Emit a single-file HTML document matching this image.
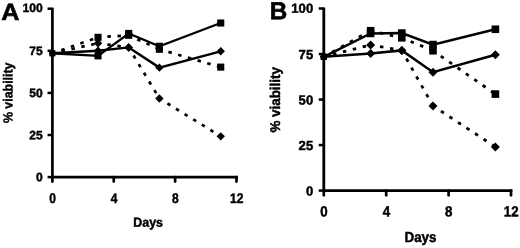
<!DOCTYPE html>
<html><head><meta charset="utf-8"><title>Figure</title>
<style>
html,body{margin:0;padding:0;background:#fff;}
svg{display:block;}
text{font-family:"Liberation Sans",sans-serif;font-weight:bold;fill:#000;stroke:#000;stroke-width:0.45px;}
.L{stroke-width:0.6px;}
</style></head><body>
<svg width="520" height="248" viewBox="0 0 520 248">
<defs><filter id="soft" x="0" y="0" width="520" height="248" filterUnits="userSpaceOnUse"><feGaussianBlur stdDeviation="0.45"/></filter></defs>
<rect width="520" height="248" fill="#fff"/>
<g filter="url(#soft)">
<path d="M52.4 7.80 V177.1 H237.83" fill="none" stroke="#000" stroke-width="2.7" stroke-linejoin="miter"/>
<line x1="47.55" y1="177.10" x2="52.4" y2="177.10" stroke="#000" stroke-width="2.5"/>
<text transform="translate(42.70 181.33) rotate(0.03)" text-anchor="end" font-size="12.1">0</text>
<line x1="47.55" y1="135.00" x2="52.4" y2="135.00" stroke="#000" stroke-width="2.5"/>
<text transform="translate(42.70 139.23) rotate(0.03)" text-anchor="end" font-size="12.1">25</text>
<line x1="47.55" y1="92.90" x2="52.4" y2="92.90" stroke="#000" stroke-width="2.5"/>
<text transform="translate(42.70 97.13) rotate(0.03)" text-anchor="end" font-size="12.1">50</text>
<line x1="47.55" y1="50.80" x2="52.4" y2="50.80" stroke="#000" stroke-width="2.5"/>
<text transform="translate(42.70 55.03) rotate(0.03)" text-anchor="end" font-size="12.1">75</text>
<line x1="47.55" y1="8.70" x2="52.4" y2="8.70" stroke="#000" stroke-width="2.5"/>
<text transform="translate(42.70 12.03) rotate(0.03)" text-anchor="end" font-size="12.1">100</text>
<line x1="52.40" y1="177.1" x2="52.40" y2="181.55" stroke="#000" stroke-width="2.7" stroke-linecap="round"/>
<text transform="translate(52.70 202.6) rotate(0.03) scale(0.86 1)" text-anchor="middle" font-size="14">0</text>
<line x1="113.76" y1="177.1" x2="113.76" y2="181.55" stroke="#000" stroke-width="2.7" stroke-linecap="round"/>
<text transform="translate(114.06 202.6) rotate(0.03) scale(0.86 1)" text-anchor="middle" font-size="14">4</text>
<line x1="175.12" y1="177.1" x2="175.12" y2="181.55" stroke="#000" stroke-width="2.7" stroke-linecap="round"/>
<text transform="translate(175.42 202.6) rotate(0.03) scale(0.86 1)" text-anchor="middle" font-size="14">8</text>
<line x1="236.48" y1="177.1" x2="236.48" y2="181.55" stroke="#000" stroke-width="2.7" stroke-linecap="round"/>
<text transform="translate(236.78 202.6) rotate(0.03) scale(0.86 1)" text-anchor="middle" font-size="14">12</text>
<text transform="translate(148.1 226.8) rotate(0.03) scale(0.94 1)" text-anchor="middle" font-size="13.2">Days</text>
<text transform="translate(12.6 92.8) rotate(-89.97) scale(0.94 1)" text-anchor="middle" font-size="13.2">% viability</text>
<text transform="translate(1.3 19.9) rotate(0.03) scale(1.067 1)" font-size="23.6" class="L">A</text>
<polyline points="52.4,53.3 98.0,55.9 128.7,33.5 159.4,46.3 220.7,23.0" fill="none" stroke="#000" stroke-width="2.4"/>
<rect x="49.50" y="50.43" width="5.8" height="5.8" fill="#000"/>
<rect x="94.47" y="52.30" width="7.1" height="7.1" fill="#000"/>
<rect x="125.15" y="29.90" width="7.1" height="7.1" fill="#000"/>
<rect x="155.83" y="42.70" width="7.1" height="7.1" fill="#000"/>
<rect x="217.19" y="19.46" width="7.1" height="7.1" fill="#000"/>
<line x1="52.4" y1="53.3" x2="98.0" y2="37.3" stroke="#000" stroke-width="2.6999999999999997" stroke-dasharray="3.5 6.6" stroke-dashoffset="0.7"/>
<line x1="98.0" y1="37.3" x2="128.7" y2="35.3" stroke="#000" stroke-width="2.6999999999999997" stroke-dasharray="3.5 6.6" stroke-dashoffset="0.7"/>
<line x1="128.7" y1="35.3" x2="159.4" y2="49.3" stroke="#000" stroke-width="2.6999999999999997" stroke-dasharray="3.5 6.6" stroke-dashoffset="0.7"/>
<line x1="159.4" y1="49.3" x2="220.7" y2="67.1" stroke="#000" stroke-width="2.6999999999999997" stroke-dasharray="3.5 6.6" stroke-dashoffset="0.7"/>
<rect x="49.50" y="50.43" width="5.8" height="5.8" fill="#000"/>
<rect x="94.47" y="33.78" width="7.1" height="7.1" fill="#000"/>
<rect x="125.15" y="31.76" width="7.1" height="7.1" fill="#000"/>
<rect x="155.83" y="45.73" width="7.1" height="7.1" fill="#000"/>
<rect x="217.19" y="63.58" width="7.1" height="7.1" fill="#000"/>
<polyline points="52.4,53.3 98.0,50.8 128.7,47.4 159.4,67.6 220.7,51.3" fill="none" stroke="#000" stroke-width="2.4"/>
<path d="M48.90 53.33 L52.40 49.83 L55.90 53.33 L52.40 56.83Z" fill="#000"/>
<path d="M93.82 50.80 L98.02 46.60 L102.22 50.80 L98.02 55.00Z" fill="#000"/>
<path d="M124.50 47.43 L128.70 43.23 L132.90 47.43 L128.70 51.63Z" fill="#000"/>
<path d="M155.18 67.64 L159.38 63.44 L163.58 67.64 L159.38 71.84Z" fill="#000"/>
<path d="M216.54 51.31 L220.74 47.11 L224.94 51.31 L220.74 55.51Z" fill="#000"/>
<line x1="52.4" y1="53.3" x2="98.0" y2="43.2" stroke="#000" stroke-width="2.6999999999999997" stroke-dasharray="3.5 6.6" stroke-dashoffset="0.7"/>
<line x1="98.0" y1="43.2" x2="128.7" y2="47.4" stroke="#000" stroke-width="2.6999999999999997" stroke-dasharray="3.5 6.6" stroke-dashoffset="0.7"/>
<line x1="128.7" y1="47.4" x2="159.4" y2="98.5" stroke="#000" stroke-width="2.6999999999999997" stroke-dasharray="3.5 6.6" stroke-dashoffset="0.7"/>
<line x1="159.4" y1="98.5" x2="220.7" y2="136.3" stroke="#000" stroke-width="2.6999999999999997" stroke-dasharray="3.5 6.6" stroke-dashoffset="0.7"/>
<path d="M48.90 53.33 L52.40 49.83 L55.90 53.33 L52.40 56.83Z" fill="#000"/>
<path d="M93.82 43.22 L98.02 39.02 L102.22 43.22 L98.02 47.42Z" fill="#000"/>
<path d="M124.50 47.43 L128.70 43.23 L132.90 47.43 L128.70 51.63Z" fill="#000"/>
<path d="M155.18 98.46 L159.38 94.26 L163.58 98.46 L159.38 102.66Z" fill="#000"/>
<path d="M216.54 136.35 L220.74 132.15 L224.94 136.35 L220.74 140.55Z" fill="#000"/>
<path d="M323.8 7.60 V190.6 H512.40" fill="none" stroke="#000" stroke-width="2.8" stroke-linejoin="miter"/>
<line x1="318.70" y1="190.60" x2="323.8" y2="190.60" stroke="#000" stroke-width="2.5"/>
<text transform="translate(313.20 195.59) rotate(0.03)" text-anchor="end" font-size="13.1">0</text>
<line x1="318.70" y1="145.07" x2="323.8" y2="145.07" stroke="#000" stroke-width="2.5"/>
<text transform="translate(313.20 150.06) rotate(0.03)" text-anchor="end" font-size="13.1">25</text>
<line x1="318.70" y1="99.55" x2="323.8" y2="99.55" stroke="#000" stroke-width="2.5"/>
<text transform="translate(313.20 104.54) rotate(0.03)" text-anchor="end" font-size="13.1">50</text>
<line x1="318.70" y1="54.03" x2="323.8" y2="54.03" stroke="#000" stroke-width="2.5"/>
<text transform="translate(313.20 59.01) rotate(0.03)" text-anchor="end" font-size="13.1">75</text>
<line x1="318.70" y1="8.50" x2="323.8" y2="8.50" stroke="#000" stroke-width="2.5"/>
<text transform="translate(313.20 12.69) rotate(0.03)" text-anchor="end" font-size="13.1">100</text>
<line x1="323.80" y1="190.6" x2="323.80" y2="195.30" stroke="#000" stroke-width="2.7" stroke-linecap="round"/>
<text transform="translate(324.00 216.6) rotate(0.03) scale(0.9 1)" text-anchor="middle" font-size="14.8">0</text>
<line x1="386.20" y1="190.6" x2="386.20" y2="195.30" stroke="#000" stroke-width="2.7" stroke-linecap="round"/>
<text transform="translate(386.40 216.6) rotate(0.03) scale(0.9 1)" text-anchor="middle" font-size="14.8">4</text>
<line x1="448.60" y1="190.6" x2="448.60" y2="195.30" stroke="#000" stroke-width="2.7" stroke-linecap="round"/>
<text transform="translate(448.80 216.6) rotate(0.03) scale(0.9 1)" text-anchor="middle" font-size="14.8">8</text>
<line x1="511.00" y1="190.6" x2="511.00" y2="195.30" stroke="#000" stroke-width="2.7" stroke-linecap="round"/>
<text transform="translate(511.20 216.6) rotate(0.03) scale(0.9 1)" text-anchor="middle" font-size="14.8">12</text>
<text transform="translate(420.5 242.1) rotate(0.03) scale(0.925 1)" text-anchor="middle" font-size="14.5">Days</text>
<text transform="translate(279.9 99.85) rotate(-89.97) scale(0.95 1)" text-anchor="middle" font-size="14.1">% viability</text>
<text transform="translate(269.7 19.35) rotate(0.03) scale(0.985 1)" font-size="24.6" class="L">B</text>
<polyline points="323.8,56.8 370.6,33.4 401.8,33.1 433.0,44.6 495.4,29.3" fill="none" stroke="#000" stroke-width="2.5"/>
<rect x="320.70" y="53.66" width="6.2" height="6.2" fill="#000"/>
<rect x="366.80" y="29.65" width="7.6" height="7.6" fill="#000"/>
<rect x="398.00" y="29.28" width="7.6" height="7.6" fill="#000"/>
<rect x="429.20" y="40.76" width="7.6" height="7.6" fill="#000"/>
<rect x="491.60" y="25.46" width="7.6" height="7.6" fill="#000"/>
<line x1="323.8" y1="56.8" x2="370.6" y2="30.7" stroke="#000" stroke-width="2.8" stroke-dasharray="3.5 6.7" stroke-dashoffset="0.7"/>
<line x1="370.6" y1="30.7" x2="401.8" y2="37.8" stroke="#000" stroke-width="2.8" stroke-dasharray="3.5 6.7" stroke-dashoffset="0.7"/>
<line x1="401.8" y1="37.8" x2="433.0" y2="50.7" stroke="#000" stroke-width="2.8" stroke-dasharray="3.5 6.7" stroke-dashoffset="0.7"/>
<line x1="433.0" y1="50.7" x2="495.4" y2="94.1" stroke="#000" stroke-width="2.8" stroke-dasharray="3.5 6.7" stroke-dashoffset="0.7"/>
<rect x="320.70" y="53.66" width="6.2" height="6.2" fill="#000"/>
<rect x="366.80" y="26.92" width="7.6" height="7.6" fill="#000"/>
<rect x="398.00" y="34.02" width="7.6" height="7.6" fill="#000"/>
<rect x="429.20" y="46.95" width="7.6" height="7.6" fill="#000"/>
<rect x="491.60" y="90.29" width="7.6" height="7.6" fill="#000"/>
<polyline points="323.8,56.8 370.6,53.5 401.8,50.4 433.0,72.2 495.4,54.8" fill="none" stroke="#000" stroke-width="2.5"/>
<path d="M320.00 56.76 L323.80 52.96 L327.60 56.76 L323.80 60.56Z" fill="#000"/>
<path d="M366.10 53.48 L370.60 48.98 L375.10 53.48 L370.60 57.98Z" fill="#000"/>
<path d="M397.30 50.38 L401.80 45.88 L406.30 50.38 L401.80 54.88Z" fill="#000"/>
<path d="M428.50 72.23 L433.00 67.73 L437.50 72.23 L433.00 76.73Z" fill="#000"/>
<path d="M490.90 54.75 L495.40 50.25 L499.90 54.75 L495.40 59.25Z" fill="#000"/>
<line x1="323.8" y1="56.8" x2="370.6" y2="44.9" stroke="#000" stroke-width="2.8" stroke-dasharray="3.5 6.7" stroke-dashoffset="0.7"/>
<line x1="370.6" y1="44.9" x2="401.8" y2="50.4" stroke="#000" stroke-width="2.8" stroke-dasharray="3.5 6.7" stroke-dashoffset="0.7"/>
<line x1="401.8" y1="50.4" x2="433.0" y2="105.9" stroke="#000" stroke-width="2.8" stroke-dasharray="3.5 6.7" stroke-dashoffset="0.7"/>
<line x1="433.0" y1="105.9" x2="495.4" y2="146.9" stroke="#000" stroke-width="2.8" stroke-dasharray="3.5 6.7" stroke-dashoffset="0.7"/>
<path d="M320.00 56.76 L323.80 52.96 L327.60 56.76 L323.80 60.56Z" fill="#000"/>
<path d="M366.10 44.92 L370.60 40.42 L375.10 44.92 L370.60 49.42Z" fill="#000"/>
<path d="M397.30 50.38 L401.80 45.88 L406.30 50.38 L401.80 54.88Z" fill="#000"/>
<path d="M428.50 105.92 L433.00 101.42 L437.50 105.92 L433.00 110.42Z" fill="#000"/>
<path d="M490.90 146.90 L495.40 142.40 L499.90 146.90 L495.40 151.40Z" fill="#000"/>
</g>
</svg>
</body></html>
